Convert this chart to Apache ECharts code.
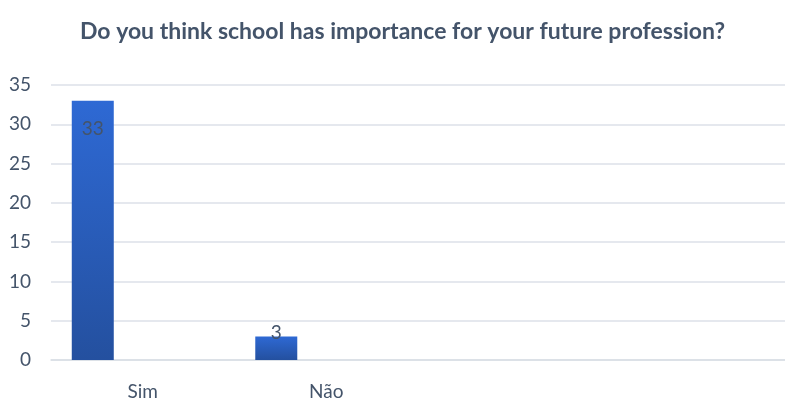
<!DOCTYPE html>
<html>
<head>
<meta charset="utf-8">
<script src="https://cdn.jsdelivr.net/npm/echarts@6/dist/echarts.min.js"></script>
<style>
html,body{margin:0;padding:0;background:#fff;}
#chart{width:785px;height:401px;}
</style>
</head>
<body>
<div id="chart"></div>
<script>
const titleText = 'Do you think school has importance for your future profession?';
const categories = ['Sim', 'Não', '', ''];
const values = [33, 3, null, null];
const emptySeriesA = [null, null, null, null];
const emptySeriesB = [null, null, null, null];
const yTicks = { min: 0, max: 35, interval: 5 };

const labelColor = '#44546A';
const fontFam = 'Lato, "Open Sans", sans-serif';

const chart = echarts.init(document.getElementById('chart'), null, { renderer: 'canvas' });

const barData = values.map((v, i) => {
  if (v === null) return v;
  const small = v < 5;
  return {
    value: v,
    label: small ? { position: 'insideTop', distance: -13 } : { position: 'insideTop', distance: 19 }
  };
});

const barColor = new echarts.graphic.LinearGradient(0, 0, 0, 1, [
  { offset: 0, color: '#2E69D4' },
  { offset: 1, color: '#24509F' }
]);

chart.setOption({
  animation: false,
  backgroundColor: '#ffffff',
  title: {
    text: titleText,
    left: 75,
    top: 15,
    textStyle: { fontFamily: fontFam, fontWeight: 'bold', fontSize: 23, color: '#44546A' }
  },
  grid: { left: 51, right: -10, top: 85, bottom: 41, containLabel: false },
  xAxis: {
    type: 'category',
    data: categories,
    axisLine: { show: true, lineStyle: { color: '#D9DEE5', width: 1.5 } },
    axisTick: { show: false },
    axisLabel: { color: labelColor, fontFamily: fontFam, fontSize: 19, margin: 22, interval: 0 },
    splitLine: { show: false }
  },
  yAxis: {
    type: 'value',
    min: yTicks.min, max: yTicks.max, interval: yTicks.interval,
    axisLine: { show: false },
    axisTick: { show: false },
    axisLabel: { color: labelColor, fontFamily: fontFam, fontSize: 19, margin: 20 },
    splitLine: { lineStyle: { color: '#DCE1E8', width: 1.5 } }
  },
  series: [
    {
      type: 'bar',
      data: barData,
      barWidth: 42,
      barGap: '19%',
      itemStyle: { color: barColor },
      label: { show: true, color: labelColor, fontFamily: fontFam, fontSize: 19 }
    },
    { type: 'bar', data: emptySeriesA, barWidth: 42, barGap: '19%' },
    { type: 'bar', data: emptySeriesB, barWidth: 42, barGap: '19%' }
  ]
});
</script>
</body>
</html>
